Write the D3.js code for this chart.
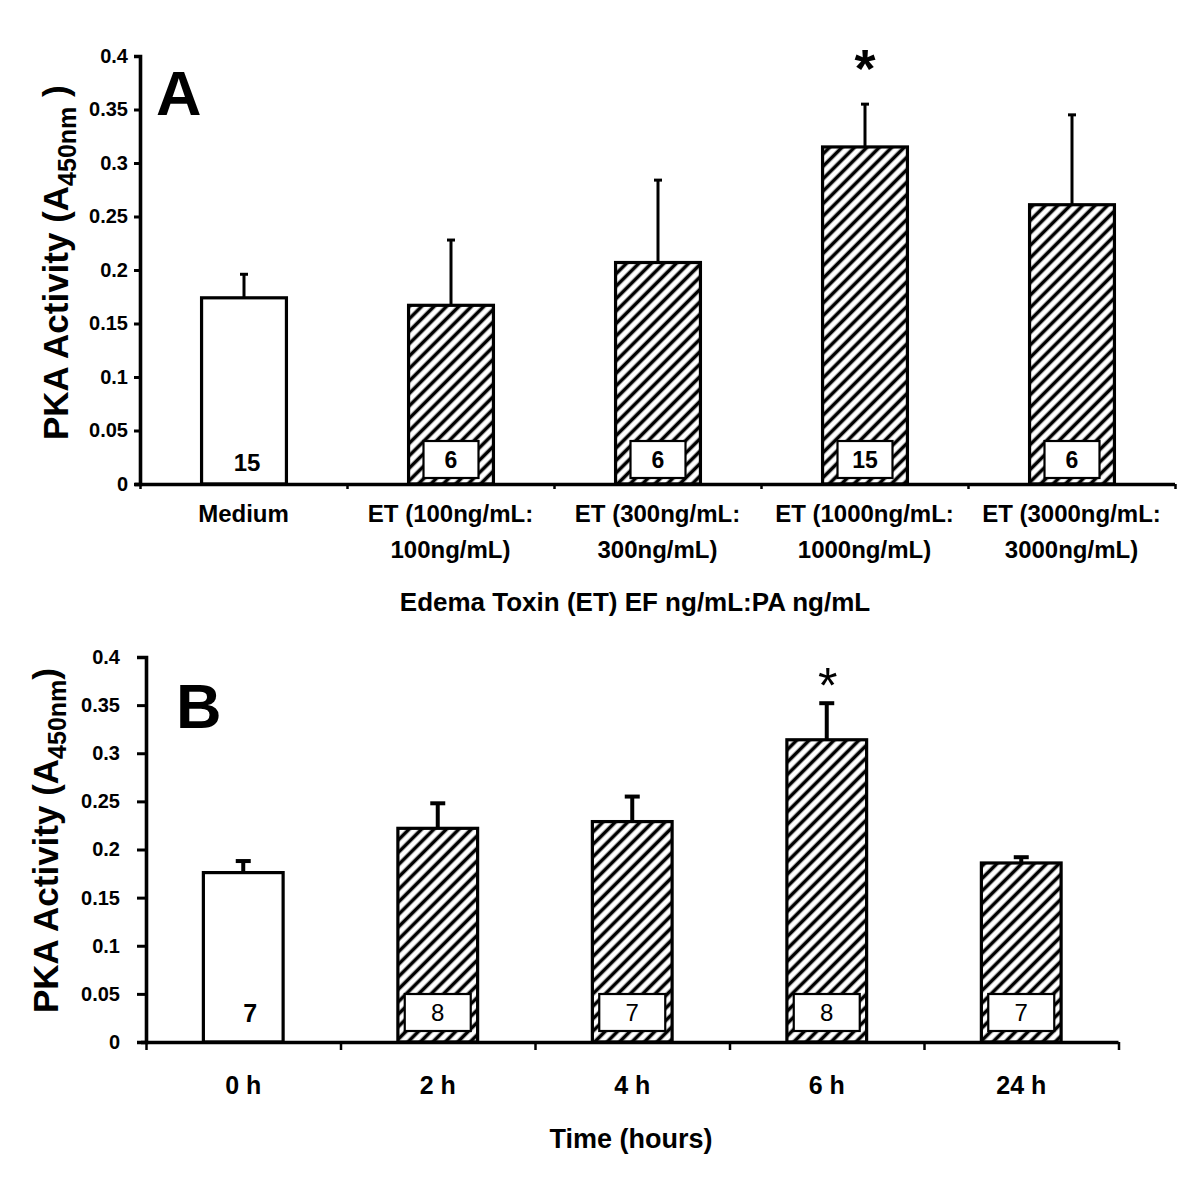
<!DOCTYPE html>
<html><head><meta charset="utf-8">
<script src="https://cdn.jsdelivr.net/npm/d3@7"></script>
<style>
html,body{margin:0;padding:0;background:#fff;}
svg text{font-family:"Liberation Sans",Arial,Helvetica,sans-serif;fill:#000;}
</style></head>
<body>
<svg id="chart" width="1200" height="1203"></svg>
<script>
// ---------- DATA ----------
const categoriesA = [["Medium"], ["ET (100ng/mL:", "100ng/mL)"], ["ET (300ng/mL:", "300ng/mL)"], ["ET (1000ng/mL:", "1000ng/mL)"], ["ET (3000ng/mL:", "3000ng/mL)"]];
const valuesA = [0.174, 0.167, 0.207, 0.315, 0.261];
const errorsA = [0.022, 0.061, 0.077, 0.040, 0.084];
const countsA = [15, 6, 6, 15, 6];
const hatchedA = [false, true, true, true, true];
const starA = [false, false, false, true, false];

const categoriesB = ["0 h", "2 h", "4 h", "6 h", "24 h"];
const valuesB = [0.176, 0.222, 0.229, 0.314, 0.186];
const errorsB = [0.012, 0.026, 0.026, 0.038, 0.006];
const countsB = [7, 8, 7, 8, 7];
const hatchedB = [false, true, true, true, true];
const starB = [false, false, false, true, false];

const yTickValues = [0, 0.05, 0.1, 0.15, 0.2, 0.25, 0.3, 0.35, 0.4];
const yTickLabels = ["0", "0.05", "0.1", "0.15", "0.2", "0.25", "0.3", "0.35", "0.4"];
const yDomain = [0, 0.4];

// ---------- DRAW ----------
const svg = d3.select("#chart");
const defs = svg.append("defs");
const pat = defs.append("pattern").attr("id", "hatch").attr("patternUnits", "userSpaceOnUse")
  .attr("width", 8.8).attr("height", 8.8).attr("patternTransform", "rotate(45)");
pat.append("rect").attr("width", 8.8).attr("height", 8.8).attr("fill", "#fff");
pat.append("rect").attr("x", 2.6).attr("width", 3.6).attr("height", 8.8).attr("fill", "#000");

function panel(cfg) {
  const g = svg.append("g");
  const y = d3.scaleLinear().domain(yDomain).range([cfg.y0, cfg.y1]);
  const idx = cfg.values.map((d, i) => i);
  const x = d3.scaleBand().domain(idx).range([cfg.x0, cfg.x1]).padding(0);
  const xb = d3.scaleLinear().domain([0, idx.length]).range([cfg.x0, cfg.x1]);
  const bw = x.bandwidth() * 0.41;

  idx.forEach(i => {
    const cx = x(i) + x.bandwidth() / 2 + cfg.shift;
    const top = y(cfg.values[i]);
    const etop = y(cfg.values[i] + cfg.errors[i]);
    g.append("line").attr("x1", cx).attr("x2", cx).attr("y1", top).attr("y2", etop)
      .attr("stroke", "#000").attr("stroke-width", cfg.errW);
    g.append("line").attr("x1", cx - cfg.capW / 2).attr("x2", cx + cfg.capW / 2).attr("y1", etop).attr("y2", etop)
      .attr("stroke", "#000").attr("stroke-width", cfg.errW);
    g.append("rect").attr("x", cx - bw / 2).attr("y", top).attr("width", bw).attr("height", y(0) - top)
      .attr("fill", cfg.hatched[i] ? "url(#hatch)" : "#fff").attr("stroke", "#000").attr("stroke-width", 3.2);
    if (cfg.hatched[i]) {
      g.append("rect").attr("x", cx - cfg.boxW / 2).attr("y", y(0) - cfg.boxGap - cfg.boxH)
        .attr("width", cfg.boxW).attr("height", cfg.boxH).attr("fill", "#fff").attr("stroke", "#000").attr("stroke-width", 2.2);
      g.append("text").attr("x", cx).attr("y", y(0) - cfg.boxGap - cfg.boxH / 2 + cfg.countSize * 0.36)
        .attr("text-anchor", "middle").attr("font-size", cfg.countSize).attr("font-weight", cfg.countWeight)
        .text(cfg.counts[i]);
    } else {
      g.append("text").attr("x", cx + cfg.plainDx).attr("y", cfg.plainY)
        .attr("text-anchor", "middle").attr("font-size", cfg.plainSize).attr("font-weight", "bold")
        .text(cfg.counts[i]);
    }
    if (cfg.stars[i]) {
      g.append("text").attr("x", cx + cfg.starDx).attr("y", etop - cfg.starGap)
        .attr("text-anchor", "middle").attr("font-size", cfg.starSize).attr("font-weight", cfg.starWeight).text("*");
    }
  });

  const ya = g.append("g").attr("transform", `translate(${cfg.x0},0)`)
    .call(d3.axisLeft(y).tickValues(yTickValues).tickFormat((d, i) => yTickLabels[i])
      .tickSize(cfg.yTick).tickPadding(cfg.yPad));
  ya.select(".domain").attr("stroke-width", 3.6).attr("stroke", "#000");
  ya.selectAll(".tick line").attr("stroke-width", 3).attr("stroke", "#000");
  ya.selectAll(".tick text").attr("font-size", cfg.yFont).attr("font-weight", "bold")
    .style("font-family", '"Liberation Sans",Arial,sans-serif');

  const xa = g.append("g").attr("transform", `translate(0,${cfg.y0})`)
    .call(d3.axisBottom(xb).ticks(idx.length).tickFormat("").tickSize(cfg.xTick).tickSizeOuter(0));
  xa.select(".domain").attr("stroke-width", 3.6).attr("stroke", "#000")
    .attr("d", `M${cfg.x0 - 5},0.5H${cfg.x1}`);
  xa.selectAll(".tick line").attr("stroke-width", 2.5).attr("stroke", "#000");

  idx.forEach(i => {
    const lines = Array.isArray(cfg.cats[i]) ? cfg.cats[i] : [cfg.cats[i]];
    const t = g.append("text").attr("text-anchor", "middle").attr("font-size", cfg.catSize).attr("font-weight", "bold");
    lines.forEach((ln, k) => {
      t.append("tspan").attr("x", x(i) + x.bandwidth() / 2 + cfg.catDx).attr("y", cfg.catY + k * cfg.catLH).text(ln);
    });
  });

  g.append("text").attr("x", cfg.titleX).attr("y", cfg.titleY).attr("text-anchor", "middle")
    .attr("font-size", cfg.titleSize).attr("font-weight", "bold").text(cfg.title);

  const yl = g.append("text").attr("transform", `translate(${cfg.ylX},${cfg.ylY}) rotate(-90)`)
    .attr("font-size", 35).attr("font-weight", "bold");
  yl.append("tspan").text("PKA Activity (A");
  yl.append("tspan").attr("font-size", 25).attr("dy", 8).text("450nm");
  yl.append("tspan").attr("dy", -8).text(cfg.ylClose);

  g.append("text").attr("x", cfg.letterX).attr("y", cfg.letterY).attr("font-size", 63).attr("font-weight", "bold").text(cfg.letter);
}

panel({
  values: valuesA, errors: errorsA, counts: countsA, hatched: hatchedA, stars: starA, cats: categoriesA,
  x0: 140, x1: 1175, y0: 484, y1: 56, shift: 0.5,
  errW: 3, capW: 8, boxW: 55, boxH: 37, boxGap: 6, countSize: 23, countWeight: "bold",
  plainDx: 3, plainY: 471, plainSize: 24, starDx: 0, starGap: 17, starSize: 54, starWeight: "bold",
  yTick: 6, yPad: 6, yFont: 20, xTick: 5,
  catSize: 24, catY: 522, catLH: 36, catDx: 0,
  title: "Edema Toxin (ET) EF ng/mL:PA ng/mL", titleX: 635, titleY: 611, titleSize: 26,
  ylX: 68, ylY: 440, ylClose: " )", letter: "A", letterX: 156, letterY: 115
});

panel({
  values: valuesB, errors: errorsB, counts: countsB, hatched: hatchedB, stars: starB, cats: categoriesB,
  x0: 146, x1: 1118.5, y0: 1042, y1: 657, shift: 0,
  errW: 4, capW: 15, boxW: 66, boxH: 37, boxGap: 11, countSize: 24, countWeight: "normal",
  plainDx: 7, plainY: 1022, plainSize: 25, starDx: 1, starGap: 0, starSize: 50, starWeight: "normal",
  yTick: 9, yPad: 17, yFont: 20, xTick: 8,
  catSize: 25, catY: 1094, catLH: 0, catDx: 0,
  title: "Time (hours)", titleX: 631, titleY: 1148, titleSize: 27,
  ylX: 58, ylY: 1013, ylClose: ")", letter: "B", letterX: 176, letterY: 728
});
</script>
</body></html>
